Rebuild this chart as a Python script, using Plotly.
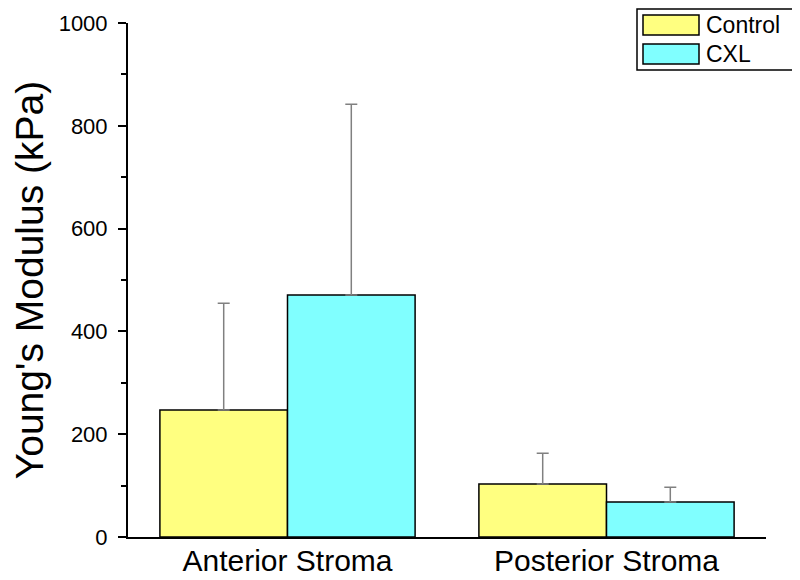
import plotly.graph_objects as go

categories = ["Anterior Stroma", "Posterior Stroma"]
control_vals = [247, 103]
control_err = [208, 60]
cxl_vals = [471, 68]
cxl_err = [371, 29]
y_ticks = [0, 200, 400, 600, 800, 1000]
series_names = ["Control", "CXL"]
series_colors = ["#FFFF80", "#80FFFF"]

FONT = "Liberation Sans, Arial, sans-serif"

# page body has an 8px default margin; work in figure pixels
OFF = 8
W, H = 800 - OFF, 580 - OFF
L, R, T, B = 128 - OFF, 766 - OFF, 23 - OFF, 537 - OFF

fig = go.Figure()
for name, vals, errs, col in zip(series_names, [control_vals, cxl_vals],
                                 [control_err, cxl_err], series_colors):
    fig.add_trace(go.Bar(
        x=categories, y=vals, name=name, showlegend=False,
        marker=dict(color=col, line=dict(color="#000000", width=1.5)),
        error_y=dict(type="data", array=errs, arrayminus=[0] * len(errs), symmetric=False,
                     color="#808080", thickness=1.5, width=6),
    ))

def px_x(v):
    return (v - OFF - L) / (R - L)
def px_y(v):
    return (B - (v - OFF)) / (B - T)

shapes = [dict(type="rect", xref="paper", yref="paper",
               x0=px_x(637), x1=px_x(793), y0=px_y(70), y1=px_y(9),
               line=dict(color="#000000", width=1.5), fillcolor="white", layer="above")]
annotations = []
rows = [(15, 35), (44, 64)]
for (ya, yb), name, col in zip(rows, series_names, series_colors):
    shapes.append(dict(type="rect", xref="paper", yref="paper",
                       x0=px_x(643), x1=px_x(699), y0=px_y(yb), y1=px_y(ya),
                       line=dict(color="#000000", width=1.5), fillcolor=col, layer="above"))
    annotations.append(dict(xref="paper", yref="paper", x=px_x(704), y=px_y((ya + yb) / 2),
                            text=name, showarrow=False, xanchor="left", yanchor="middle",
                            font=dict(size=23, family=FONT, color="#000000")))

fig.update_layout(
    width=W, height=H,
    margin=dict(l=L, r=W - R, t=T, b=H - B, autoexpand=False),
    paper_bgcolor="white", plot_bgcolor="white",
    barmode="group", bargap=0.2, bargroupgap=0,
    font=dict(family=FONT, color="#000000"),
    showlegend=False,
    shapes=shapes, annotations=annotations,
    xaxis=dict(range=[-0.5, 1.5], showline=True, linecolor="#000000", linewidth=2,
               ticks="", tickfont=dict(size=30, family=FONT), showgrid=False, zeroline=False,
               automargin=False, ticklabelstandoff=-4),
    yaxis=dict(range=[0, 1000], tickvals=y_ticks, showline=True, linecolor="#000000",
               linewidth=2, ticks="outside", ticklen=8, tickwidth=1.5, tickcolor="#000000",
               tickfont=dict(size=22, family=FONT), showgrid=False, zeroline=False,
               automargin=False, ticklabelstandoff=6,
               minor=dict(dtick=100, ticks="outside", ticklen=5, tickwidth=1.5, tickcolor="#000000"),
               title=dict(text="Young's Modulus (kPa)", font=dict(size=39, family=FONT), standoff=6)),
)

fig.write_html("out.html")
